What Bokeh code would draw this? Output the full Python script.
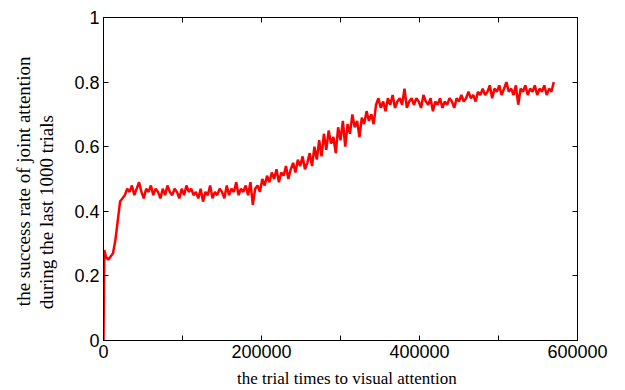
from bokeh.plotting import figure
from bokeh.models import FixedTicker, LinearAxis, Range1d
from bokeh.embed import file_html
from bokeh.resources import INLINE

# ---- data ----
trials = [0, 1000] + list(range(3000, 573000, 3000))

success_rate = [0.00, 0.28,
    0.26, 0.25, 0.26, 0.27, 0.31, 0.37, 0.43, 0.44, 0.45, 0.47,
    0.46, 0.48, 0.45, 0.47, 0.49, 0.46, 0.44, 0.47, 0.46, 0.48,
    0.45, 0.47, 0.46, 0.44, 0.47, 0.45, 0.48, 0.46, 0.45, 0.47,
    0.46, 0.44, 0.47, 0.45, 0.48, 0.46, 0.47, 0.45, 0.46, 0.44,
    0.47, 0.43, 0.46, 0.45, 0.48, 0.44, 0.46, 0.45, 0.47, 0.46,
    0.44, 0.48, 0.45, 0.47, 0.46, 0.49, 0.45, 0.47, 0.46, 0.48,
    0.45, 0.49, 0.42, 0.47, 0.48, 0.46, 0.50, 0.48, 0.51, 0.49,
    0.52, 0.50, 0.53, 0.49, 0.52, 0.51, 0.54, 0.50, 0.53, 0.55,
    0.52, 0.56, 0.54, 0.57, 0.53, 0.55, 0.58, 0.54, 0.60, 0.56,
    0.62, 0.57, 0.64, 0.59, 0.65, 0.61, 0.63, 0.58, 0.66, 0.62,
    0.68, 0.60, 0.67, 0.64, 0.70, 0.66, 0.68, 0.63, 0.69, 0.67,
    0.71, 0.68, 0.70, 0.67, 0.73, 0.75, 0.72, 0.74, 0.71, 0.75,
    0.73, 0.76, 0.72, 0.74, 0.75, 0.73, 0.78, 0.72, 0.74, 0.75,
    0.73, 0.75, 0.74, 0.72, 0.76, 0.74, 0.73, 0.75, 0.71, 0.74,
    0.73, 0.75, 0.72, 0.74, 0.73, 0.75, 0.74, 0.72, 0.75, 0.74,
    0.76, 0.74, 0.75, 0.77, 0.75, 0.76, 0.74, 0.77, 0.76, 0.78,
    0.76, 0.77, 0.79, 0.75, 0.78, 0.77, 0.79, 0.76, 0.78, 0.80,
    0.77, 0.78, 0.76, 0.79, 0.73, 0.78, 0.77, 0.79, 0.76, 0.78,
    0.77, 0.79, 0.76, 0.78, 0.77, 0.79, 0.76, 0.78, 0.77, 0.80]

x_ticks = [0, 100000, 200000, 300000, 400000, 500000, 600000]
x_tick_labels = ["0", "", "200000", "", "400000", "", "600000"]
y_ticks = [0, 0.2, 0.4, 0.6, 0.8, 1.0]
y_tick_labels = ["0", "0.2", "0.4", "0.6", "0.8", "1"]

x_title = "the trial times to visual attention"
y_title_1 = "the success rate  of joint attention"
y_title_2 = "during the last 1000 trials"

X_MAX = 600000
FRAME_W, FRAME_H = 474, 323
W, H = 620, 390

p = figure(width=W, height=H, output_backend="svg", toolbar_location=None,
           x_range=Range1d(0, X_MAX), y_range=Range1d(0, 1),
           x_axis_location=None, y_axis_location=None)
p.min_border_left = 103
p.min_border_right = W - 103 - FRAME_W
p.min_border_top = 17
p.min_border_bottom = H - 17 - FRAME_H
p.background_fill_color = "white"
p.border_fill_color = "white"
p.outline_line_color = "black"
p.outline_line_width = 1
p.xgrid.visible = False
p.ygrid.visible = False

def style_axis(ax, ticks, labels, show_labels):
    ax.ticker = FixedTicker(ticks=ticks)
    ax.major_label_overrides = {t: (l if show_labels else "") for t, l in zip(ticks, labels)}
    ax.major_tick_in = 5
    ax.major_tick_out = 0
    ax.minor_tick_line_color = None
    ax.axis_line_color = "black"
    ax.major_tick_line_color = "black"
    ax.major_label_text_font = "Liberation Sans"
    ax.major_label_text_color = "black"
    ax.axis_label_text_font = "Liberation Serif"
    ax.axis_label_text_font_style = "normal"
    ax.axis_label_text_color = "black"
    if show_labels:
        ax.major_label_text_font_size = "18px"
        ax.major_label_standoff = 4
    else:
        ax.major_label_text_font_size = "0px"
        ax.major_label_standoff = 0

bottom = LinearAxis(axis_label="\u00a0" * 3 + x_title)
style_axis(bottom, x_ticks, x_tick_labels, True)
bottom.axis_label_text_font_size = "17px"
bottom.axis_label_standoff = 8
top = LinearAxis(); style_axis(top, x_ticks, x_tick_labels, False)
pad = "\u00a0" * 14
left = LinearAxis(axis_label=y_title_1 + "\n" + y_title_2 + pad)
style_axis(left, y_ticks, y_tick_labels, True)
left.axis_label_text_font_size = "19px"
left.axis_label_text_line_height = 1.1
left.axis_label_standoff = 14
right = LinearAxis(); style_axis(right, y_ticks, y_tick_labels, False)
p.add_layout(bottom, "below")
p.add_layout(top, "above")
p.add_layout(left, "left")
p.add_layout(right, "right")

p.line(trials, success_rate, line_color="#ff0000", line_width=2.5)

open("out.html", "w").write(file_html(p, INLINE))
